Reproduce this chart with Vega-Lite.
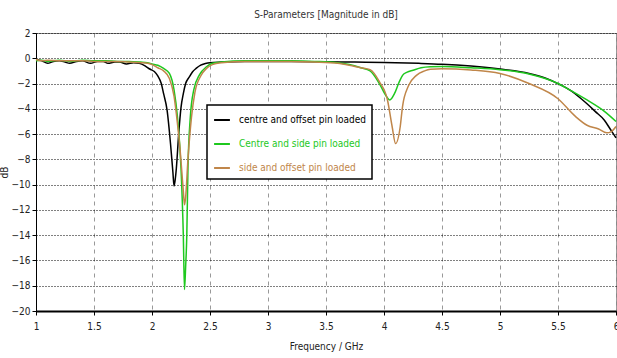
{
  "$schema": "https://vega.github.io/schema/vega-lite/v6.json",
  "width": 580,
  "height": 278,
  "autosize": {"type": "none"},
  "padding": {"left": 36, "top": 33, "right": 1, "bottom": 47},
  "background": "white",
  "title": {"text": "S-Parameters [Magnitude in dB]", "fontSize": 10, "fontWeight": "normal", "font": "'DejaVu Sans Condensed', 'Liberation Sans', sans-serif", "color": "#333", "offset": 8, "anchor": "middle"},
  "config": {
    "view": {"stroke": "#888", "strokeWidth": 1},
    "axis": {"labelFont": "'DejaVu Sans Condensed', 'Liberation Sans', sans-serif", "titleFont": "'DejaVu Sans Condensed', 'Liberation Sans', sans-serif", "labelFontSize": 10, "titleFontSize": 10, "titleFontWeight": "normal", "labelColor": "#222", "titleColor": "#222"}
  },
  "data": {"values": [
    {"s":"centre and offset pin loaded","f":1.00,"v":-0.1},
    {"s":"centre and offset pin loaded","f":1.05,"v":-0.2},
    {"s":"centre and offset pin loaded","f":1.10,"v":-0.4},
    {"s":"centre and offset pin loaded","f":1.15,"v":-0.25},
    {"s":"centre and offset pin loaded","f":1.20,"v":-0.2},
    {"s":"centre and offset pin loaded","f":1.25,"v":-0.3},
    {"s":"centre and offset pin loaded","f":1.29,"v":-0.4},
    {"s":"centre and offset pin loaded","f":1.35,"v":-0.25},
    {"s":"centre and offset pin loaded","f":1.40,"v":-0.2},
    {"s":"centre and offset pin loaded","f":1.47,"v":-0.4},
    {"s":"centre and offset pin loaded","f":1.53,"v":-0.25},
    {"s":"centre and offset pin loaded","f":1.58,"v":-0.25},
    {"s":"centre and offset pin loaded","f":1.62,"v":-0.4},
    {"s":"centre and offset pin loaded","f":1.68,"v":-0.3},
    {"s":"centre and offset pin loaded","f":1.72,"v":-0.3},
    {"s":"centre and offset pin loaded","f":1.78,"v":-0.45},
    {"s":"centre and offset pin loaded","f":1.84,"v":-0.35},
    {"s":"centre and offset pin loaded","f":1.89,"v":-0.4},
    {"s":"centre and offset pin loaded","f":1.94,"v":-0.6},
    {"s":"centre and offset pin loaded","f":1.98,"v":-0.85},
    {"s":"centre and offset pin loaded","f":2.02,"v":-1.05},
    {"s":"centre and offset pin loaded","f":2.05,"v":-1.4},
    {"s":"centre and offset pin loaded","f":2.08,"v":-2.0},
    {"s":"centre and offset pin loaded","f":2.10,"v":-2.8},
    {"s":"centre and offset pin loaded","f":2.13,"v":-4.1},
    {"s":"centre and offset pin loaded","f":2.16,"v":-6.8},
    {"s":"centre and offset pin loaded","f":2.18,"v":-9.0},
    {"s":"centre and offset pin loaded","f":2.19,"v":-10.1},
    {"s":"centre and offset pin loaded","f":2.20,"v":-9.6},
    {"s":"centre and offset pin loaded","f":2.21,"v":-8.7},
    {"s":"centre and offset pin loaded","f":2.23,"v":-6.0},
    {"s":"centre and offset pin loaded","f":2.25,"v":-3.9},
    {"s":"centre and offset pin loaded","f":2.27,"v":-2.8},
    {"s":"centre and offset pin loaded","f":2.29,"v":-2.0},
    {"s":"centre and offset pin loaded","f":2.32,"v":-1.5},
    {"s":"centre and offset pin loaded","f":2.35,"v":-1.07},
    {"s":"centre and offset pin loaded","f":2.38,"v":-0.8},
    {"s":"centre and offset pin loaded","f":2.42,"v":-0.54},
    {"s":"centre and offset pin loaded","f":2.46,"v":-0.42},
    {"s":"centre and offset pin loaded","f":2.50,"v":-0.35},
    {"s":"centre and offset pin loaded","f":2.60,"v":-0.3},
    {"s":"centre and offset pin loaded","f":2.80,"v":-0.25},
    {"s":"centre and offset pin loaded","f":3.00,"v":-0.25},
    {"s":"centre and offset pin loaded","f":3.20,"v":-0.25},
    {"s":"centre and offset pin loaded","f":3.50,"v":-0.28},
    {"s":"centre and offset pin loaded","f":3.75,"v":-0.3},
    {"s":"centre and offset pin loaded","f":4.00,"v":-0.33},
    {"s":"centre and offset pin loaded","f":4.30,"v":-0.4},
    {"s":"centre and offset pin loaded","f":4.50,"v":-0.47},
    {"s":"centre and offset pin loaded","f":4.75,"v":-0.62},
    {"s":"centre and offset pin loaded","f":5.00,"v":-0.85},
    {"s":"centre and offset pin loaded","f":5.25,"v":-1.2},
    {"s":"centre and offset pin loaded","f":5.40,"v":-1.6},
    {"s":"centre and offset pin loaded","f":5.52,"v":-2.1},
    {"s":"centre and offset pin loaded","f":5.60,"v":-2.5},
    {"s":"centre and offset pin loaded","f":5.70,"v":-3.2},
    {"s":"centre and offset pin loaded","f":5.75,"v":-3.6},
    {"s":"centre and offset pin loaded","f":5.82,"v":-4.2},
    {"s":"centre and offset pin loaded","f":5.90,"v":-4.9},
    {"s":"centre and offset pin loaded","f":5.95,"v":-5.6},
    {"s":"centre and offset pin loaded","f":6.00,"v":-6.3},

    {"s":"Centre and side pin loaded","f":1.00,"v":-0.2},
    {"s":"Centre and side pin loaded","f":1.05,"v":-0.15},
    {"s":"Centre and side pin loaded","f":1.10,"v":-0.25},
    {"s":"Centre and side pin loaded","f":1.20,"v":-0.15},
    {"s":"Centre and side pin loaded","f":1.30,"v":-0.25},
    {"s":"Centre and side pin loaded","f":1.40,"v":-0.15},
    {"s":"Centre and side pin loaded","f":1.50,"v":-0.2},
    {"s":"Centre and side pin loaded","f":1.60,"v":-0.2},
    {"s":"Centre and side pin loaded","f":1.70,"v":-0.25},
    {"s":"Centre and side pin loaded","f":1.80,"v":-0.25},
    {"s":"Centre and side pin loaded","f":1.90,"v":-0.3},
    {"s":"Centre and side pin loaded","f":1.96,"v":-0.35},
    {"s":"Centre and side pin loaded","f":2.00,"v":-0.45},
    {"s":"Centre and side pin loaded","f":2.05,"v":-0.55},
    {"s":"Centre and side pin loaded","f":2.10,"v":-0.8},
    {"s":"Centre and side pin loaded","f":2.15,"v":-1.2},
    {"s":"Centre and side pin loaded","f":2.19,"v":-2.5},
    {"s":"Centre and side pin loaded","f":2.22,"v":-4.7},
    {"s":"Centre and side pin loaded","f":2.25,"v":-8.7},
    {"s":"Centre and side pin loaded","f":2.27,"v":-14.0},
    {"s":"Centre and side pin loaded","f":2.28,"v":-18.3},
    {"s":"Centre and side pin loaded","f":2.29,"v":-16.5},
    {"s":"Centre and side pin loaded","f":2.30,"v":-14.0},
    {"s":"Centre and side pin loaded","f":2.31,"v":-8.7},
    {"s":"Centre and side pin loaded","f":2.33,"v":-4.7},
    {"s":"Centre and side pin loaded","f":2.36,"v":-2.5},
    {"s":"Centre and side pin loaded","f":2.41,"v":-1.3},
    {"s":"Centre and side pin loaded","f":2.47,"v":-0.67},
    {"s":"Centre and side pin loaded","f":2.52,"v":-0.4},
    {"s":"Centre and side pin loaded","f":2.60,"v":-0.3},
    {"s":"Centre and side pin loaded","f":2.80,"v":-0.2},
    {"s":"Centre and side pin loaded","f":3.00,"v":-0.2},
    {"s":"Centre and side pin loaded","f":3.20,"v":-0.2},
    {"s":"Centre and side pin loaded","f":3.40,"v":-0.25},
    {"s":"Centre and side pin loaded","f":3.60,"v":-0.35},
    {"s":"Centre and side pin loaded","f":3.70,"v":-0.5},
    {"s":"Centre and side pin loaded","f":3.80,"v":-0.75},
    {"s":"Centre and side pin loaded","f":3.88,"v":-1.0},
    {"s":"Centre and side pin loaded","f":3.96,"v":-2.0},
    {"s":"Centre and side pin loaded","f":4.02,"v":-3.0},
    {"s":"Centre and side pin loaded","f":4.05,"v":-3.3},
    {"s":"Centre and side pin loaded","f":4.09,"v":-2.8},
    {"s":"Centre and side pin loaded","f":4.13,"v":-1.9},
    {"s":"Centre and side pin loaded","f":4.16,"v":-1.35},
    {"s":"Centre and side pin loaded","f":4.20,"v":-1.1},
    {"s":"Centre and side pin loaded","f":4.25,"v":-0.95},
    {"s":"Centre and side pin loaded","f":4.32,"v":-0.75},
    {"s":"Centre and side pin loaded","f":4.40,"v":-0.67},
    {"s":"Centre and side pin loaded","f":4.50,"v":-0.65},
    {"s":"Centre and side pin loaded","f":4.75,"v":-0.75},
    {"s":"Centre and side pin loaded","f":5.00,"v":-0.9},
    {"s":"Centre and side pin loaded","f":5.25,"v":-1.25},
    {"s":"Centre and side pin loaded","f":5.50,"v":-2.0},
    {"s":"Centre and side pin loaded","f":5.60,"v":-2.5},
    {"s":"Centre and side pin loaded","f":5.75,"v":-3.3},
    {"s":"Centre and side pin loaded","f":5.90,"v":-4.2},
    {"s":"Centre and side pin loaded","f":6.00,"v":-5.0},

    {"s":"side and offset pin loaded","f":1.00,"v":-0.1},
    {"s":"side and offset pin loaded","f":1.05,"v":-0.2},
    {"s":"side and offset pin loaded","f":1.10,"v":-0.15},
    {"s":"side and offset pin loaded","f":1.20,"v":-0.2},
    {"s":"side and offset pin loaded","f":1.30,"v":-0.2},
    {"s":"side and offset pin loaded","f":1.40,"v":-0.2},
    {"s":"side and offset pin loaded","f":1.50,"v":-0.25},
    {"s":"side and offset pin loaded","f":1.60,"v":-0.25},
    {"s":"side and offset pin loaded","f":1.70,"v":-0.25},
    {"s":"side and offset pin loaded","f":1.80,"v":-0.3},
    {"s":"side and offset pin loaded","f":1.90,"v":-0.35},
    {"s":"side and offset pin loaded","f":1.96,"v":-0.4},
    {"s":"side and offset pin loaded","f":2.00,"v":-0.5},
    {"s":"side and offset pin loaded","f":2.05,"v":-0.75},
    {"s":"side and offset pin loaded","f":2.10,"v":-1.0},
    {"s":"side and offset pin loaded","f":2.15,"v":-1.6},
    {"s":"side and offset pin loaded","f":2.19,"v":-3.0},
    {"s":"side and offset pin loaded","f":2.21,"v":-4.4},
    {"s":"side and offset pin loaded","f":2.24,"v":-7.0},
    {"s":"side and offset pin loaded","f":2.27,"v":-10.5},
    {"s":"side and offset pin loaded","f":2.28,"v":-11.6},
    {"s":"side and offset pin loaded","f":2.29,"v":-11.0},
    {"s":"side and offset pin loaded","f":2.31,"v":-8.0},
    {"s":"side and offset pin loaded","f":2.34,"v":-4.7},
    {"s":"side and offset pin loaded","f":2.37,"v":-2.7},
    {"s":"side and offset pin loaded","f":2.42,"v":-1.4},
    {"s":"side and offset pin loaded","f":2.47,"v":-0.8},
    {"s":"side and offset pin loaded","f":2.52,"v":-0.5},
    {"s":"side and offset pin loaded","f":2.60,"v":-0.35},
    {"s":"side and offset pin loaded","f":2.80,"v":-0.25},
    {"s":"side and offset pin loaded","f":3.00,"v":-0.25},
    {"s":"side and offset pin loaded","f":3.20,"v":-0.25},
    {"s":"side and offset pin loaded","f":3.40,"v":-0.3},
    {"s":"side and offset pin loaded","f":3.60,"v":-0.4},
    {"s":"side and offset pin loaded","f":3.70,"v":-0.55},
    {"s":"side and offset pin loaded","f":3.80,"v":-0.75},
    {"s":"side and offset pin loaded","f":3.88,"v":-0.9},
    {"s":"side and offset pin loaded","f":3.96,"v":-1.85},
    {"s":"side and offset pin loaded","f":4.03,"v":-3.3},
    {"s":"side and offset pin loaded","f":4.07,"v":-5.4},
    {"s":"side and offset pin loaded","f":4.10,"v":-6.75},
    {"s":"side and offset pin loaded","f":4.14,"v":-5.4},
    {"s":"side and offset pin loaded","f":4.16,"v":-3.8},
    {"s":"side and offset pin loaded","f":4.21,"v":-2.2},
    {"s":"side and offset pin loaded","f":4.28,"v":-1.35},
    {"s":"side and offset pin loaded","f":4.35,"v":-1.0},
    {"s":"side and offset pin loaded","f":4.40,"v":-0.87},
    {"s":"side and offset pin loaded","f":4.50,"v":-0.82},
    {"s":"side and offset pin loaded","f":4.75,"v":-0.92},
    {"s":"side and offset pin loaded","f":5.00,"v":-1.2},
    {"s":"side and offset pin loaded","f":5.25,"v":-2.0},
    {"s":"side and offset pin loaded","f":5.50,"v":-3.2},
    {"s":"side and offset pin loaded","f":5.65,"v":-4.6},
    {"s":"side and offset pin loaded","f":5.75,"v":-5.3},
    {"s":"side and offset pin loaded","f":5.85,"v":-5.6},
    {"s":"side and offset pin loaded","f":5.92,"v":-5.9},
    {"s":"side and offset pin loaded","f":5.96,"v":-5.8},
    {"s":"side and offset pin loaded","f":6.00,"v":-5.4}
  ]},
  "mark": {"type": "line", "strokeWidth": 1.5, "interpolate": "monotone"},
  "encoding": {
    "x": {"field": "f", "type": "quantitative", "title": "Frequency / GHz",
      "scale": {"domain": [1, 6], "nice": false, "zero": false},
      "axis": {"values": [1,1.5,2,2.5,3,3.5,4,4.5,5,5.5,6], "format": "~g", "labelPadding": 6, "tickSize": 4, "tickColor": "#000",
        "domainColor": "#000", "domainWidth": 2, "gridColor": "#999", "gridDash": [4,4], "gridWidth": 1, "titlePadding": 10, "labelFlush": false}},
    "y": {"field": "v", "type": "quantitative", "title": "dB",
      "scale": {"domain": [-20, 2], "nice": false, "zero": false},
      "axis": {"values": [-20,-18,-16,-14,-12,-10,-8,-6,-4,-2,0,2], "labelPadding": 2, "tickSize": 4, "tickColor": "#000",
        "domainColor": "#000", "domainWidth": 1, "gridColor": "#000", "gridDash": [1,2], "gridWidth": 1, "titlePadding": 2, "labelFlush": false}},
    "color": {"field": "s", "type": "nominal",
      "scale": {"domain": ["centre and offset pin loaded", "Centre and side pin loaded", "side and offset pin loaded"],
        "range": ["#000000", "#1ec81e", "#c0864a"]},
      "legend": {"title": null, "orient": "none", "legendX": 171, "legendY": 72,
        "symbolType": "stroke", "symbolStrokeWidth": 2, "symbolSize": 250, "rowPadding": 10, "labelOffset": 8,
        "labelFont": "'DejaVu Sans Condensed', 'Liberation Sans', sans-serif", "labelFontSize": 10, "labelLimit": 200,
        "strokeColor": "#000", "fillColor": "white", "padding": 6,
        "encode": {"legend": {"update": {"strokeWidth": {"value": 1.5}}},
          "labels": {"update": {"fill": {"scale": "color", "field": "value"}}}}}
    }
  }
}
